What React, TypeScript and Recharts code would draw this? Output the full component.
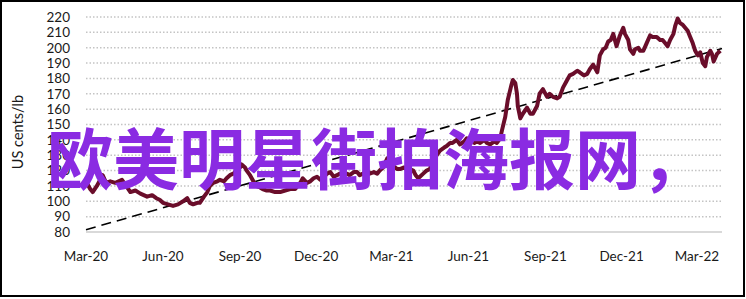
import { CartesianGrid, Line, LineChart, XAxis, YAxis } from "recharts";

// days since 1 Mar 2020
const days = [
  1, 5, 8, 13, 17, 20, 24, 29, 35, 39, 43, 48, 53, 59, 65, 69, 73, 79, 84, 88,
  92, 98, 104, 110, 116, 121, 124, 128, 133, 136, 141, 145, 148, 152, 157, 160, 165, 168, 172, 176,
  180, 184, 186, 190, 192, 196, 200, 203, 208, 211, 216, 220, 226, 232, 238, 244, 250, 256, 259, 264,
  268, 272, 276, 280, 283, 288, 292, 296, 300, 303, 307, 312, 315, 320, 324, 327, 331, 336, 339, 344,
  348, 351, 355, 360, 363, 367, 372, 375, 380, 383, 387, 391, 394, 397, 399, 403, 407, 411, 415, 419,
  423, 428, 431, 435, 438, 443, 447, 452, 455, 459, 464, 467, 471, 476, 479, 483, 488, 491, 495, 497,
  501, 504, 508, 510, 513, 515, 516, 519, 522, 527, 531, 534, 539, 542, 546, 551, 554, 558, 563, 566,
  570, 574, 578, 582, 587, 590, 595, 599, 602, 606, 611, 614, 618, 621, 624, 627, 630, 634, 638, 642,
  644, 648, 650, 654, 656, 660, 662, 666, 670, 674, 677, 682, 686, 689, 692, 695, 698, 702, 704, 707,
  710, 713, 716, 719, 722, 725, 728, 731, 734, 737, 740, 742, 746, 748, 750, 754, 758, 760,
];

// US cents/lb
const prices = [
  112, 108, 106, 110, 114, 117, 112, 113, 112, 113, 114, 110, 106, 107, 105, 104, 103, 104, 102, 101,
  99, 98, 97, 98, 100, 102, 99, 98, 99, 99, 103, 106, 110, 112, 113, 114, 113, 115, 117, 118,
  120, 122, 124, 122, 120, 117, 113, 110, 109, 108, 107, 107, 106, 106, 107, 108, 108, 112, 115, 112,
  113, 115, 116, 114, 115, 118, 119, 116, 117, 118, 117, 118, 117, 119, 119, 117, 118, 120, 118, 119,
  118, 120, 122, 128, 124, 123, 121, 121, 122, 121, 121, 120, 117, 115, 116, 118, 120, 121, 128, 130,
  133, 135, 136, 138, 138, 140, 137, 139, 141, 140, 138, 139, 138, 140, 138, 137, 139, 138, 141, 146,
  155, 166, 175, 179, 177, 170, 162, 154, 157, 161, 157, 157, 162, 170, 173, 168, 170, 168, 167, 168,
  174, 178, 182, 183, 185, 184, 182, 183, 186, 189, 184, 195, 199, 200, 204, 205, 209, 201, 208,
  213, 209, 205, 199, 196, 199, 200, 198, 198, 203, 208, 207, 207, 205, 205, 203, 201, 205, 209, 214,
  219, 216, 215, 213, 211, 207, 203, 198, 195, 197, 190, 188, 194, 198, 196, 191, 196, 198,
];

const trendDays = [0, 760];
const trendValues = [81.5, 199.5];

const tickDays = [0, 92, 184, 275, 365, 457, 549, 640, 730];
const tickLabels = ["Mar-20", "Jun-20", "Sep-20", "Dec-20", "Mar-21", "Jun-21", "Sep-21", "Dec-21", "Mar-22"];
const yTicks = [80, 90, 100, 110, 120, 130, 140, 150, 160, 170, 180, 190, 200, 210, 220];

const priceData = days.map((day, i) => ({ day, price: prices[i] }));
const trendData = trendDays.map((day, i) => ({ day, trend: trendValues[i] }));

const tickFont = { fill: "#1a1a1a", fontSize: 13.5, fontFamily: "Lato, sans-serif" };

export default function App() {
  return (
    <div style={{ position: "fixed", left: 0, top: 0, width: 746, height: 299, background: "#fff" }}>
      <LineChart width={746} height={299} margin={{ top: 17, right: 24, bottom: 37, left: 0 }}>
        <CartesianGrid
          vertical={false}
          stroke="#c4c4c4"
          strokeWidth={1.5}
          strokeDasharray="1.5 2"
          horizontalValues={yTicks.filter((v) => v > 80)}
        />
        <XAxis
          type="number"
          dataKey="day"
          domain={[0, 760]}
          ticks={tickDays}
          interval={0}
          tickFormatter={(d: number) => tickLabels[tickDays.indexOf(d)] ?? ""}
          tick={tickFont}
          tickLine={false}
          tickSize={0}
          tickMargin={19}
          axisLine={{ stroke: "#d9d9d9", strokeWidth: 2 }}
          allowDuplicatedCategory={false}
        />
        <YAxis
          type="number"
          domain={[80, 220]}
          ticks={yTicks}
          interval={0}
          tick={tickFont}
          tickLine={false}
          tickSize={0}
          tickMargin={16}
          axisLine={false}
          width={86}
          label={{
            value: "US cents/lb",
            content: () => (
              <text
                x={17}
                y={132}
                transform="rotate(-90, 17, 132)"
                textAnchor="middle"
                dominantBaseline="central"
                fill="#1a1a1a"
                fontSize={14.5}
                fontFamily="Lato, sans-serif"
              >
                US cents/lb
              </text>
            ),
          }}
        />
        <Line
          data={trendData}
          dataKey="trend"
          stroke="#000"
          strokeWidth={1.6}
          strokeDasharray="10 6"
          dot={false}
          isAnimationActive={false}
        />
        <Line
          data={priceData}
          dataKey="price"
          stroke="#6a0d2a"
          strokeWidth={4}
          strokeLinejoin="round"
          dot={false}
          isAnimationActive={false}
        />
      </LineChart>
      <div
        style={{
          position: "absolute",
          left: 47,
          top: 122,
          fontFamily: '"Noto Sans CJK SC", sans-serif',
          fontSize: 66,
          fontWeight: 700,
          lineHeight: 1,
          color: "#8a2be2",
          whiteSpace: "nowrap",
        }}
      >
        欧美明星街拍海报网，
      </div>
      <div
        style={{
          position: "absolute",
          left: 0,
          top: 0,
          width: 745,
          height: 297,
          boxSizing: "border-box",
          border: "2px solid #000",
          pointerEvents: "none",
        }}
      />
    </div>
  );
}
